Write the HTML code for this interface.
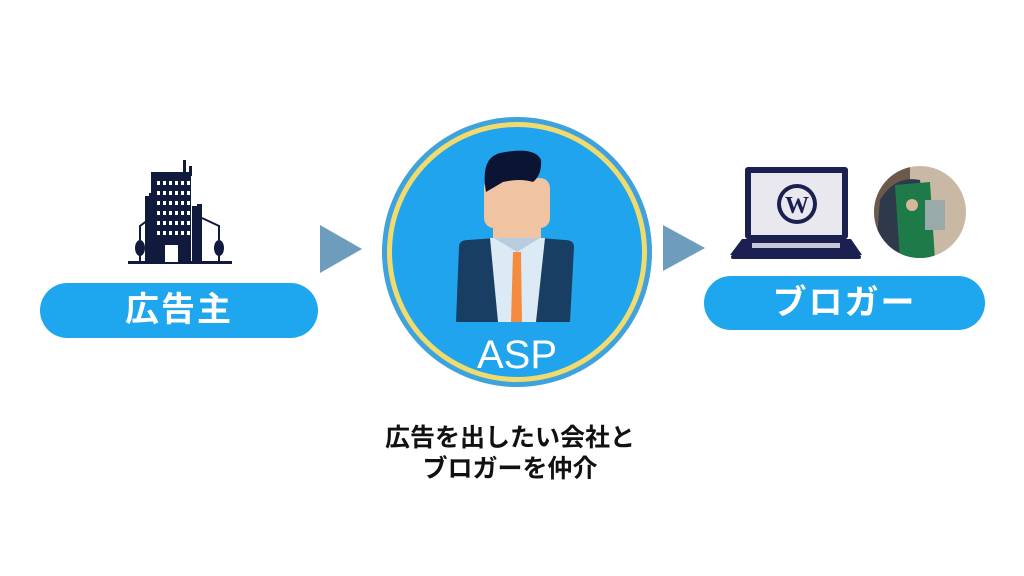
<!DOCTYPE html>
<html><head><meta charset="utf-8"><style>
body{margin:0;width:1024px;height:576px;background:#fff;overflow:hidden;position:relative;font-family:"Liberation Sans","Noto Sans CJK JP",sans-serif}
.pill{position:absolute;background:#1ea6ee;border-radius:28px;color:#fff;font-weight:bold;font-size:34px;text-align:center;letter-spacing:2px}
.cap{position:absolute;left:300px;width:420px;text-align:center;font-weight:bold;font-size:25px;color:#111;line-height:31px}
</style></head><body>
<svg width="1024" height="576" style="position:absolute;left:0;top:0">
<g fill="#0f1a3d">
<rect x="151" y="175" width="40" height="87"/>
<rect x="183" y="160" width="3" height="16"/><rect x="189" y="166" width="3" height="10"/>
<rect x="151" y="172" width="40" height="4"/>
<rect x="149" y="193" width="5" height="69"/><rect x="145" y="196" width="4" height="66"/>
<rect x="197" y="204" width="5" height="58"/><rect x="192" y="206" width="5" height="56"/>
<rect x="128" y="261" width="104" height="3"/>
<ellipse cx="140" cy="248" rx="5" ry="8"/><rect x="139" y="252" width="2" height="10"/>
<ellipse cx="219" cy="248" rx="5" ry="8"/><rect x="218" y="252" width="2" height="10"/>
<path d="M140 240 V226 L148 220" stroke="#0f1a3d" stroke-width="2" fill="none"/>
<path d="M219 240 V226 L202 218" stroke="#0f1a3d" stroke-width="2" fill="none"/>
</g>
<g fill="#fff">
<rect x="165" y="245" width="13" height="17"/>
</g>
<g fill="#fff" id="w">
<rect x="169" y="181" width="3" height="4"/><rect x="175" y="181" width="3" height="4"/><rect x="181" y="181" width="3" height="4"/><rect x="187" y="181" width="3" height="4"/>
</g>
<use href="#w" y="10"/><use href="#w" y="20"/><use href="#w" y="30"/><use href="#w" y="40"/><use href="#w" y="50"/>
<g transform="translate(-12,0)"><use href="#w"/><use href="#w" y="10"/><use href="#w" y="20"/><use href="#w" y="30"/><use href="#w" y="40"/><use href="#w" y="50"/></g>
<polygon points="320,225 362,249 320,273" fill="#6d9cbc"/>
<polygon points="663,225 705,248 663,271" fill="#6d9cbc"/>
<circle cx="517" cy="252" r="135" fill="#3ea2dd"/>
<circle cx="517" cy="252" r="130" fill="#f1db6e"/>
<circle cx="517" cy="252" r="125" fill="#20a4ee"/>
<rect x="493" y="200" width="48" height="38" fill="#f0c4a2"/>
<rect x="484" y="178" width="66" height="50" rx="10" fill="#f0c4a2"/>
<path d="M486 192 Q480 158 500 153 Q535 146 541 160 Q542 175 533 182 Q520 178 503 182 Z" fill="#0b1533"/>
<path d="M459 247 Q459 240 468 240 L496 238 L540 238 L565 240 Q574 240 574 247 L570 322 L456 322 Z" fill="#183e63"/>
<path d="M490 238 L545 238 L536 322 L498 322 Z" fill="#dceaf5"/>
<path d="M494 238 L517 252 L540 238" fill="#b8ccde"/>
<path d="M513 252 L521 252 L522 322 L511 322 Z" fill="#f58b3f"/>
<text x="517" y="368" text-anchor="middle" font-size="40" fill="#fff" font-family="Liberation Sans">ASP</text>
<rect x="745" y="167" width="103" height="72" rx="3" fill="#1b2050"/>
<rect x="751" y="173" width="91" height="62" fill="#e8e8ee"/>
<path d="M742 239 H851 L862 255 H730 Z" fill="#1b2050"/>
<rect x="752" y="243" width="88" height="5" fill="#c7c9d6"/>
<rect x="731" y="255" width="130" height="4" rx="2" fill="#1b2050"/>
<circle cx="797" cy="204" r="20" fill="#1b2050"/>
<circle cx="797" cy="204" r="16" fill="#e8e8ee"/>
<text x="797" y="213" text-anchor="middle" font-size="24" font-weight="bold" fill="#1b2050" font-family="Liberation Serif">W</text>
<clipPath id="c"><circle cx="920" cy="212" r="46"/></clipPath>
<g clip-path="url(#c)">
<rect x="870" y="160" width="100" height="110" fill="#c8b8a4"/>
<rect x="870" y="160" width="40" height="110" fill="#6b5a4c"/>
<path d="M880 200 Q895 175 920 180 L930 260 L875 260 Z" fill="#2e3a4c"/>
<path d="M895 185 L930 182 L935 260 L900 260 Z" fill="#1f7a4a"/>
<rect x="925" y="200" width="20" height="30" fill="#9aa"/>
<circle cx="912" cy="205" r="6" fill="#d7b79a"/>
</g>
</svg>
<div class="pill" style="left:40px;top:283px;width:278px;height:55px;line-height:55px">広告主</div>
<div class="pill" style="left:704px;top:276px;width:281px;height:54px;line-height:54px">ブロガー</div>
<div class="cap" style="top:423px">広告を出したい会社と<br>ブロガーを仲介</div>
</body></html>
